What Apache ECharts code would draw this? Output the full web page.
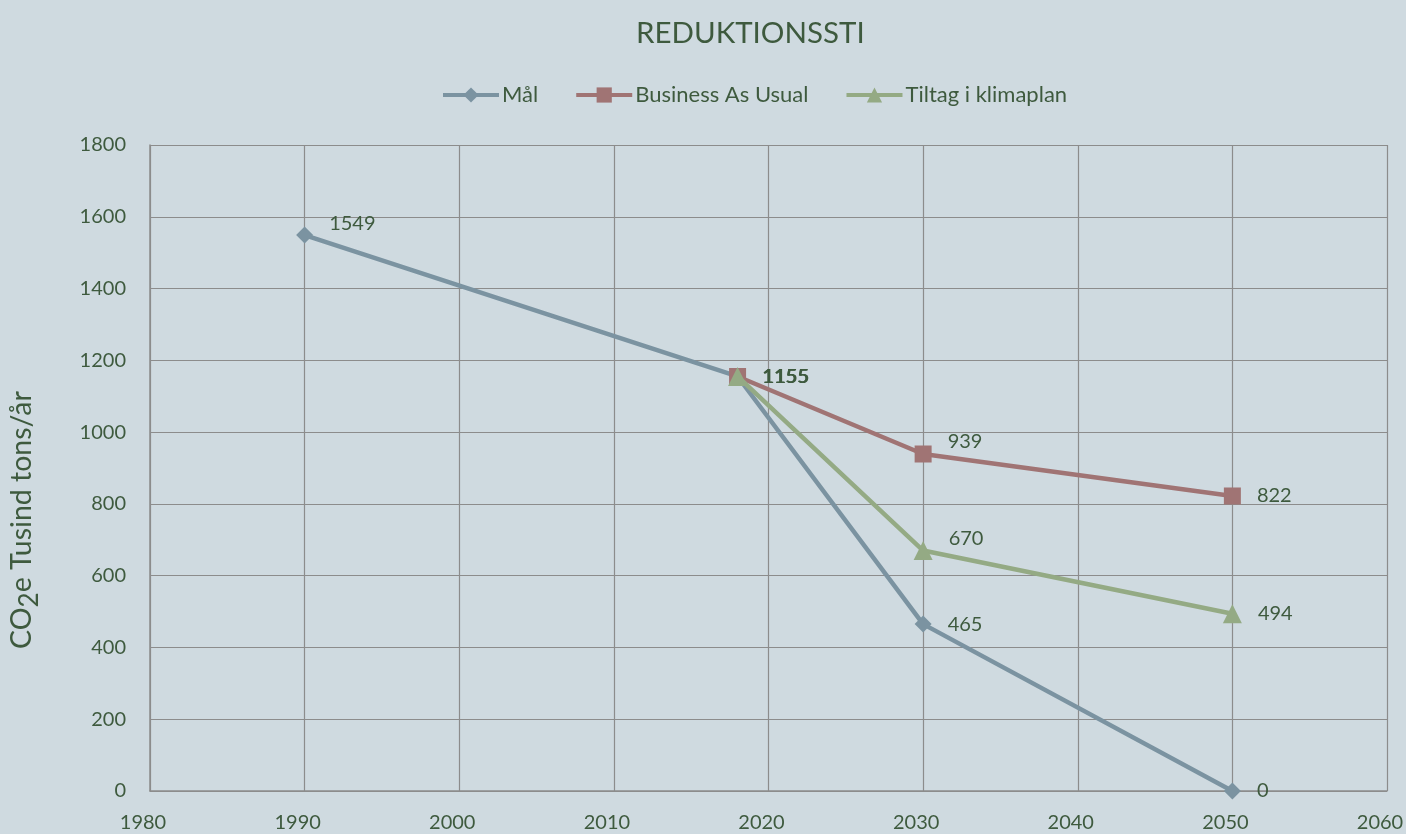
<!DOCTYPE html>
<html><head><meta charset="utf-8">
<script src="https://cdn.jsdelivr.net/npm/echarts@6/dist/echarts.min.js"></script>
<style>html,body{margin:0;padding:0;background:#cfdae0;overflow:hidden;}#c{width:1406px;height:834px;}</style>
</head><body><div id="c"></div>
<script>
const title = 'REDUKTIONSSTI';
const seriesNames = ['Mål', 'Business As Usual', 'Tiltag i klimaplan'];
const malYears = [1990, 2018, 2030, 2050];
const malValues = [1549, 1155, 465, 0];
const bauYears = [2018, 2030, 2050];
const bauValues = [1155, 939, 822];
const tiltagYears = [2018, 2030, 2050];
const tiltagValues = [1155, 670, 494];
const labelRaised = { 'Mål': [1990], 'Business As Usual': [2030], 'Tiltag i klimaplan': [2030] };

const textColor = '#3e5a3e';
const colors = ['#7b93a1', '#a07474', '#94aa84'];
const symbols = ['diamond', 'rect', 'triangle'];
const symbolSizes = [17, 17, 19];
const FONT = 'Lato';

function mk(name, years, vals, i) {
  return {
    name: name, type: 'line', data: years.map((y, k) => {
      const raised = labelRaised[name].indexOf(y) >= 0;
      return { value: [y, vals[k]], label: { offset: raised ? [0, -12] : [0, 0] } };
    }),
    symbol: symbols[i], symbolSize: symbolSizes[i], showAllSymbol: true,
    lineStyle: { width: 4.5, color: colors[i] }, itemStyle: { color: colors[i] },
    label: { show: true, position: 'right', distance: 16, color: textColor, fontSize: 20, fontFamily: FONT,
      formatter: p => String(p.value[1]) },
    animation: false, z: 2 + i
  };
}

const chart = echarts.init(document.getElementById('c'));
chart.setOption({
  backgroundColor: '#cfdae0',
  animation: false,
  title: { text: title, left: 631, top: 13, textStyle: { color: textColor, fontSize: 29.5, fontWeight: 'normal', fontFamily: FONT } },
  legend: { top: 79, left: 436, itemWidth: 56, itemHeight: 19, itemGap: 36,
    lineStyle: { width: 4 },
    textStyle: { color: textColor, fontSize: 22, fontFamily: FONT, padding: [0, 0, 0, -2] },
    data: seriesNames },
  grid: { left: 150, right: 19, top: 145, bottom: 43, containLabel: false, outerBoundsMode: 'none' },
  xAxis: { type: 'value', min: 1980, max: 2060, interval: 10,
    axisLine: { show: true, lineStyle: { color: '#8c8c8c', width: 1.5 } }, axisTick: { show: false },
    splitLine: { show: true, lineStyle: { color: '#8c8c8c', width: 1.2 } },
    axisLabel: { color: textColor, fontSize: 20, fontFamily: FONT, margin: 22, padding: [0, 14, 0, 0], formatter: v => String(v) } },
  yAxis: { type: 'value', min: 0, max: 1800, interval: 200,
    name: 'CO{sub|2}e Tusind tons/år', nameLocation: 'middle', nameGap: 107, nameRotate: 90,
    nameTextStyle: { color: textColor, fontSize: 28.5, fontFamily: FONT, padding: [0, 104, 0, 0],
      rich: { sub: { fontSize: 26, color: textColor, fontFamily: FONT, padding: [16, 0, 0, 0] } } },
    axisLine: { show: true, lineStyle: { color: '#8c8c8c', width: 1.5 } }, axisTick: { show: false },
    splitLine: { show: true, lineStyle: { color: '#8c8c8c', width: 1.2 } },
    axisLabel: { color: textColor, fontSize: 20, fontFamily: FONT, margin: 24, formatter: v => String(v) } },
  series: [
    mk(seriesNames[0], malYears, malValues, 0),
    mk(seriesNames[1], bauYears, bauValues, 1),
    mk(seriesNames[2], tiltagYears, tiltagValues, 2)
  ]
});
</script></body></html>
